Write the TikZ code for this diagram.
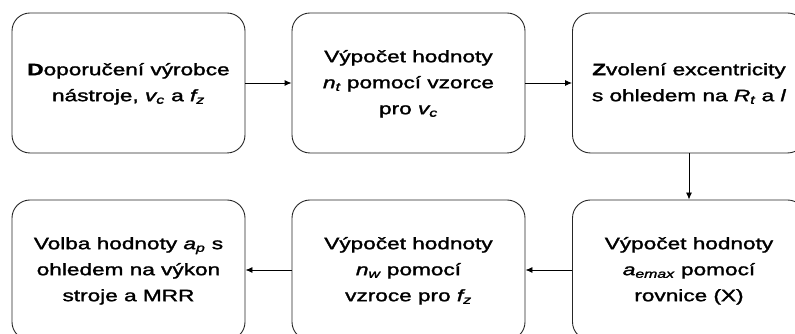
\documentclass[tikz,border=0pt]{standalone}
\usepackage{fontspec}
\setmainfont{Liberation Sans}[FakeBold=1.5,BoldFeatures={FakeBold=1.5}]
\usepackage{graphicx}
\usetikzlibrary{arrows.meta}
\newcommand{\boxtext}[1]{\scalebox{1.37}[1]{\fontsize{16.5}{26}\selectfont\begin{tabular}{@{}c@{}}#1\end{tabular}}}
\newcommand{\iv}[2]{\textit{#1\textsubscript{#2}}}
\tikzset{
  stepbox/.style={draw=black!85, line width=0.9pt, rounded corners=18pt, minimum width=233pt, minimum height=140pt, inner sep=0pt, align=center},
  arr/.style={draw=black, line width=0.9pt, -{Latex[length=7pt,width=6pt]}}
}
\begin{document}
\begin{tikzpicture}[x=1pt,y=1pt]
\useasboundingbox (0,0) rectangle (795,334);
\clip (0,0) rectangle (795,334);
\node[stepbox] (b1) at (128.5,251) {\boxtext{\textbf{D}oporučení výrobce\\ nástroje, \iv{v}{c} a \iv{f}{z}}};
\node[stepbox] (b2) at (408.5,251) {\boxtext{Výpočet hodnoty\\ \iv{n}{t} pomocí vzorce\\ pro \iv{v}{c}}};
\node[stepbox] (b3) at (689,251) {\boxtext{\textbf{Z}volení excentricity\\ s ohledem na \iv{R}{t} a \textit{l}}};
\node[stepbox] (b4) at (128.5,64) {\boxtext{Volba hodnoty \iv{a}{p} s\\ ohledem na výkon\\ stroje a MRR}};
\node[stepbox] (b5) at (408.5,64) {\boxtext{Výpočet hodnoty\\ \iv{n}{w} pomocí\\ vzroce pro \iv{f}{z}}};
\node[stepbox] (b6) at (689,64) {\boxtext{Výpočet hodnoty\\ \iv{a}{emax} pomocí\\ rovnice (X)}};
\draw[arr] (b1) -- (b2);
\draw[arr] (b2) -- (b3);
\draw[arr] (b3) -- (b6);
\draw[arr] (b6) -- (b5);
\draw[arr] (b5) -- (b4);
\end{tikzpicture}
\end{document}
